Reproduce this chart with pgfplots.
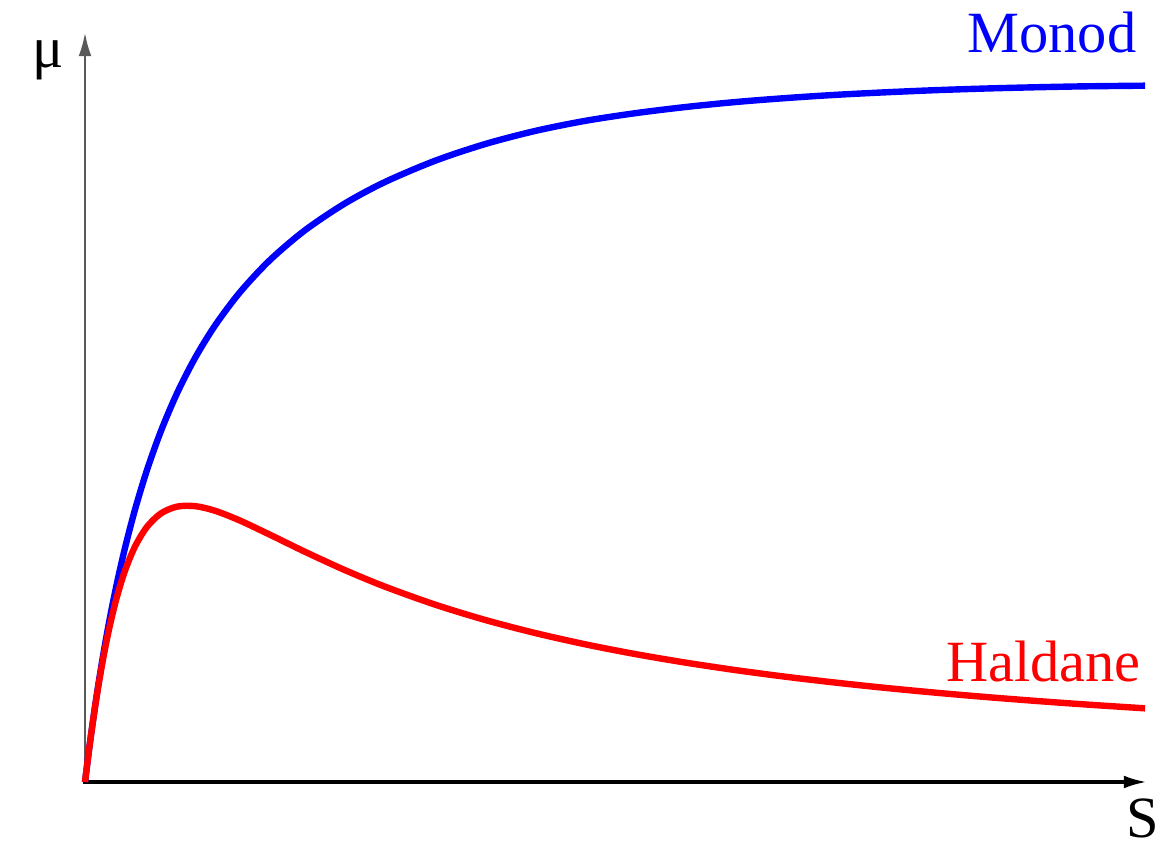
\documentclass[border=0pt]{standalone}
\usepackage{pgfplots}
\pgfplotsset{compat=1.18}
\usepackage{fontspec}
\setmainfont{LiberationSerif}[Extension=.ttf, UprightFont=*-Regular, BoldFont=*-Bold, ItalicFont=*-Italic, BoldItalicFont=*-BoldItalic]
\usetikzlibrary{arrows.meta}
\definecolor{monodblue}{RGB}{0,0,255}
\definecolor{haldred}{RGB}{255,0,0}
\begin{document}
\begin{tikzpicture}
\begin{axis}[
  anchor=origin, at={(0,0)},
  scale only axis, width=265pt, height=187.25pt,
  xmin=0, xmax=1060, ymin=0, ymax=749,
  hide axis, clip=false,
]
\draw[gray!70!black, line width=0.45pt, -{Latex[length=5.8pt,width=3.2pt]}] (axis cs:0,0) -- (axis cs:0,749);
\draw[black, line width=0.85pt, -{Latex[length=5.8pt,width=3.2pt]}] (axis cs:-2,0) -- (axis cs:1062,0);
\addplot[monodblue, line width=1.6pt, smooth, line join=round] coordinates {
(0,0) (3,24.18) (6,46.93) (10,75.24) (14,101.47) (19,131.67) (25,164.58) (32,199.06)
(40,234.07) (50,272.41) (62,311.97) (76,351.11) (92,388.66) (110,423.90) (130,456.44)
(155,489.80) (185,521.96) (220,551.75) (260,578.59) (300,600.0) (350,621.2) (400,637.9)
(450,651.0) (500,661.1) (550,668.75) (600,674.9) (650,679.9) (700,683.85) (750,687.1)
(800,689.65) (850,691.8) (900,693.45) (950,694.7) (1000,695.65) (1060,696.3)};
\addplot[haldred, line width=1.6pt, smooth, line join=round] coordinates {
(0,0) (3,24.16) (6,46.78) (10,74.59) (14,99.84) (19,127.98) (25,157.14) (32,185.46)
(40,211.31) (50,235.50) (62,255.17) (76,268.63) (92,275.36) (110,275.87) (130,271.24)
(155,261.42) (185,247.24) (220,230.20) (260,211.85) (300,195.34) (350,177.40) (400,162.09)
(450,149.00) (500,137.74) (550,127.98) (600,119.47) (650,111.97) (700,105.34) (750,99.44)
(800,94.14) (850,89.38) (900,85.06) (950,81.14) (1000,77.56) (1060,73.65)};
\node[anchor=base, text=monodblue, font=\fontsize{14.6}{17}\selectfont] at (axis cs:967,729) {Monod};
\node[anchor=base, text=haldred, font=\fontsize{14.6}{17}\selectfont] at (axis cs:958.5,100) {Haldane};
\node[anchor=base, font=\fontsize{14.6}{17}\selectfont] at (axis cs:1057.5,-55) {S};
\node[anchor=base, font=\fontsize{14.6}{17}\selectfont] at (axis cs:-37,714) {μ};
\end{axis}
\pgfresetboundingbox
\path[use as bounding box] (-21.25pt,-15.5pt) rectangle (272.25pt,195.5pt);
\end{tikzpicture}
\end{document}
